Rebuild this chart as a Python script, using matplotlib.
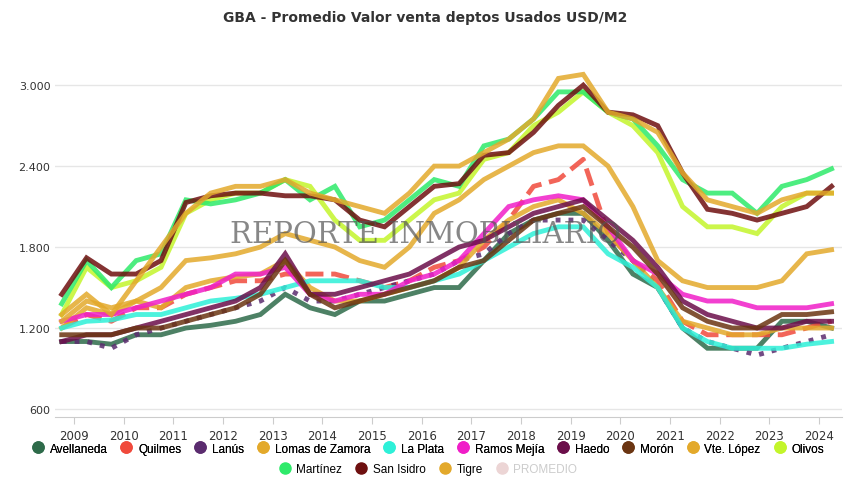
import matplotlib
matplotlib.use("Agg")
import matplotlib.pyplot as plt
from matplotlib.lines import Line2D
import numpy as np

# semi-annual points, 2008.75 .. 2024.25
years = np.arange(2008.75, 2024.3, 0.5)

avellaneda = [1100,1100,1080,1150,1150,1200,1220,1250,1300,1450,1350,1300,1400,1400,1450,1500,1500,1700,1900,2000,2050,2050,1850,1600,1500,1200,1050,1050,1050,1250,1250,1200]
quilmes = [1200,1300,1250,1350,1350,1450,1500,1550,1550,1600,1600,1600,1550,1500,1550,1650,1700,1800,2000,2250,2300,2450,1900,1700,1550,1250,1150,1150,1150,1150,1200,1250]
lanus = [1100,1100,1050,1150,1200,1250,1300,1350,1400,1500,1400,1400,1450,1500,1550,1600,1700,1750,1900,2000,2000,2000,1850,1700,1500,1200,1100,1050,1000,1050,1100,1150]
lomas = [1200,1350,1300,1400,1350,1500,1550,1580,1600,1700,1500,1400,1400,1450,1500,1550,1650,1850,2000,2100,2150,2050,1900,1700,1500,1250,1200,1150,1150,1200,1200,1200]
la_plata = [1200,1250,1260,1300,1300,1350,1400,1420,1450,1500,1550,1550,1550,1500,1500,1550,1600,1700,1800,1900,1950,1950,1750,1650,1500,1200,1100,1050,1050,1050,1080,1100]
ramos = [1250,1300,1300,1350,1400,1450,1500,1600,1600,1650,1450,1400,1450,1450,1550,1600,1700,1900,2100,2150,2180,2150,1950,1700,1600,1450,1400,1400,1350,1350,1350,1380]
haedo = [1100,1150,1150,1200,1250,1300,1350,1400,1500,1750,1450,1450,1500,1550,1600,1700,1800,1850,1950,2050,2100,2150,2000,1850,1650,1400,1300,1250,1200,1200,1250,1250]
moron = [1150,1150,1150,1200,1200,1250,1300,1350,1450,1700,1450,1350,1400,1450,1500,1550,1650,1700,1850,2000,2050,2100,1950,1800,1600,1350,1250,1200,1200,1300,1300,1320]
vte_lopez = [1250,1400,1350,1400,1500,1700,1720,1750,1800,1900,1850,1800,1700,1650,1800,2050,2150,2300,2400,2500,2550,2550,2400,2100,1700,1550,1500,1500,1500,1550,1750,1780]
olivos = [1300,1650,1500,1550,1650,2050,2150,2200,2200,2300,2250,2000,1850,1850,2000,2150,2200,2450,2500,2700,2800,2950,2800,2700,2500,2100,1950,1950,1900,2100,2200,2200]
martinez = [1380,1700,1500,1700,1750,2150,2120,2150,2200,2300,2150,2250,1950,2000,2150,2300,2250,2550,2600,2750,2950,2950,2800,2750,2550,2300,2200,2200,2050,2250,2300,2380]
san_isidro = [1450,1720,1600,1600,1700,2130,2180,2200,2200,2180,2180,2150,2000,1950,2100,2250,2270,2480,2500,2650,2850,3000,2800,2780,2700,2350,2080,2050,2000,2050,2100,2250]
tigre = [1300,1450,1300,1550,1800,2050,2200,2250,2250,2300,2200,2150,2100,2050,2200,2400,2400,2500,2600,2750,3050,3080,2800,2750,2650,2350,2150,2100,2050,2150,2200,2200]

series = [
    ("Avellaneda", avellaneda, "#2e6b4a", "-"),
    ("Quilmes", quilmes, "#f04a3c", "--"),
    ("Lanús", lanus, "#5b2c6f", ":"),
    ("Lomas de Zamora", lomas, "#e3a92b", "-"),
    ("La Plata", la_plata, "#2ef0d8", "-"),
    ("Ramos Mejía", ramos, "#f01ec8", "-"),
    ("Haedo", haedo, "#6b0e4a", "-"),
    ("Morón", moron, "#6b3512", "-"),
    ("Vte. López", vte_lopez, "#e3a92b", "-"),
    ("Olivos", olivos, "#c3f52b", "-"),
    ("Martínez", martinez, "#2eea6a", "-"),
    ("San Isidro", san_isidro, "#6e0f0f", "-"),
    ("Tigre", tigre, "#e3a92b", "-"),
]

fig = plt.figure(figsize=(8.5, 4.85), dpi=100)
ax = fig.add_axes([0.065, 0.138, 0.925, 0.74])

for name, vals, col, ls in series:
    ax.plot(years, vals, color=col, ls=ls, lw=3.5, alpha=0.85, solid_joinstyle="miter")

ax.set_xlim(2008.62, 2024.45)
ax.set_ylim(540, 3200)
ax.set_yticks([600, 1200, 1800, 2400, 3000])
ax.set_yticklabels(["600", "1.200", "1.800", "2.400", "3.000"])
ax.set_xticks(range(2009, 2025))
ax.tick_params(axis="y", length=0, labelsize=8, colors="#333333")
ax.tick_params(axis="x", length=5, color="#cccccc", labelsize=8.5, colors="#333333")
ax.grid(axis="y", color="#e6e6e6", lw=1)
ax.set_axisbelow(True)
for s in ["top", "right", "left"]:
    ax.spines[s].set_visible(False)
ax.spines["bottom"].set_color("#cccccc")

fig.text(0.5, 0.955, "GBA - Promedio Valor venta deptos Usados USD/M2", ha="center",
         fontsize=10, fontweight="bold", color="#333333")
fig.text(0.5, 0.515, "REPORTE INMOBILIARIO", ha="center", va="center", fontsize=21,
         family="DejaVu Serif", color="#555555", alpha=0.7)

def handle(col):
    return Line2D([], [], marker="o", ls="", color=col, markersize=8)

legfont = {"family": "Liberation Sans", "size": 8.5}
row1 = series[:10]
leg1 = fig.legend([handle(c) for _, _, c, _ in row1], [n for n, _, _, _ in row1],
                  loc="center", bbox_to_anchor=(0.5, 0.073), ncol=10, frameon=False,
                  prop=legfont, handletextpad=0.0, columnspacing=0.6)
fig.add_artist(leg1)
row2 = [(n, c) for n, _, c, _ in series[10:]] + [("PROMEDIO", "#ecd5d5")]
leg2 = fig.legend([handle(c) for _, c in row2], [n for n, _ in row2],
                  loc="center", bbox_to_anchor=(0.5, 0.03), ncol=4, frameon=False,
                  prop=legfont, handletextpad=0.0, columnspacing=0.6)
leg2.get_texts()[-1].set_color("#cccccc")

fig.savefig("out.png", dpi=100)
